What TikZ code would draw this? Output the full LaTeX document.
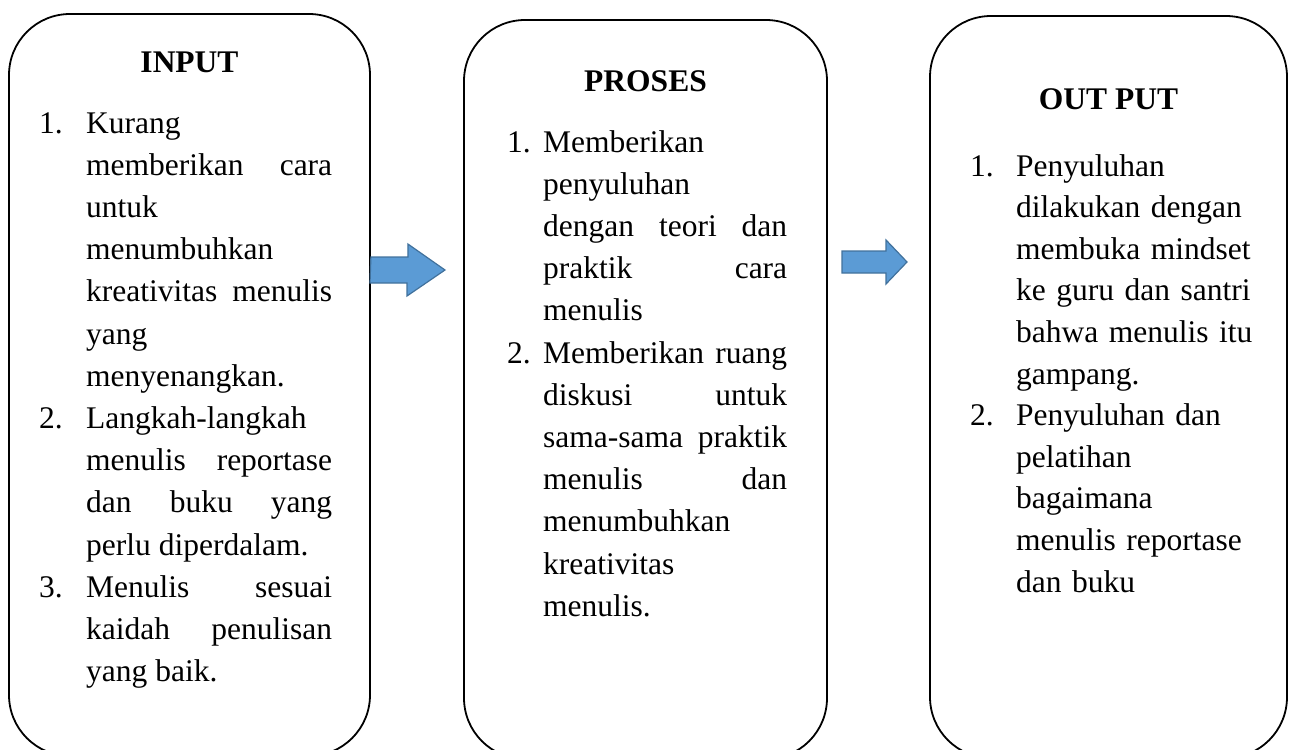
\documentclass[tikz,border=0pt]{standalone}
\usepackage{fontspec}
\setmainfont{Liberation Serif}
\usetikzlibrary{positioning}

\definecolor{arrow_fill}{RGB}{91,155,213}
\definecolor{arrow_line}{RGB}{65,113,156}

\newcommand{\listfont}{\fontsize{31.5}{42.2}\selectfont\tolerance=10000\hbadness=10000\hyphenpenalty=10000\exhyphenpenalty=10000}
\newcommand{\numitem}[2]{\noindent\hangindent=#1\hangafter=1\makebox[#1][l]{#2}\ignorespaces}

\begin{document}
\begin{tikzpicture}
    [
        x=1pt, y=1pt,
        box_node/.style={rectangle, rounded corners=61pt, draw=black, line width=1.8pt, inner sep=0pt},
        head_node/.style={anchor=base, inner sep=0pt, font=\fontsize{31.5}{42.2}\selectfont\bfseries},
        list_node/.style={anchor=base west, inner sep=0pt, text width=#1, align=justify, font=\listfont},
        ragged_list_node/.style={anchor=base west, inner sep=0pt, text width=#1, align=left, font=\listfont\fontsize{31.5}{41.6}\selectfont},
        blue_arrow/.style={fill=arrow_fill, draw=arrow_line, line width=1.2pt, line join=miter},
    ]
        \useasboundingbox (0,0) rectangle (1289,-749) ;
        \clip (0,0) rectangle (1289,-749) ;

        \node[box_node, minimum width=361pt, minimum height=742pt] (input_box) at (189.5,-385) {} ;
        \node[box_node, minimum width=363pt, minimum height=739pt] (proses_box) at (645.5,-389.5) {} ;
        \node[box_node, minimum width=357pt, minimum height=742pt] (output_box) at (1108.5,-387) {} ;

        \node[head_node] (input_head) at (189.5,-73) {INPUT} ;
        \node[head_node] (proses_head) at (645.5,-92) {PROSES} ;
        \node[head_node] (output_head) at (1108.5,-110) {OUT PUT} ;

        \node[list_node=293pt] (input_list) at (39,-133) {%
            \numitem{47pt}{1.}Kurang\newline
            memberikan cara\linebreak
            untuk\newline
            menumbuhkan\newline
            kreativitas menulis\linebreak
            yang\newline
            menyenangkan.\par
            \numitem{47pt}{2.}Langkah-langkah\newline
            menulis reportase\linebreak
            dan buku yang\linebreak
            perlu diperdalam.\par
            \numitem{47pt}{3.}Menulis sesuai\linebreak
            kaidah penulisan\linebreak
            yang baik.\par} ;
        \node[list_node=280pt] (proses_list) at (507,-152) {%
            \numitem{36pt}{1.}Memberikan\newline
            penyuluhan\newline
            dengan teori dan\linebreak
            praktik cara\linebreak
            menulis\par
            \numitem{36pt}{2.}Memberikan ruang\linebreak
            diskusi untuk\linebreak
            sama-sama praktik\linebreak
            menulis dan\linebreak
            menumbuhkan\newline
            kreativitas\newline
            menulis.\par} ;
        \node[ragged_list_node=300pt] (output_list) at (970,-176) {%
            \numitem{46pt}{1.}Penyuluhan\newline
            dilakukan dengan\newline
            membuka mindset\newline
            ke guru dan santri\newline
            bahwa menulis itu\newline
            gampang.\par
            \numitem{46pt}{2.}Penyuluhan dan\newline
            pelatihan\newline
            bagaimana\newline
            menulis reportase\newline
            dan buku\par} ;

        % block arrows between the boxes
        \coordinate (arrow1_tail) at (input_box.east |- 0,-270) ;
        \coordinate (arrow1_tip) at (445,-270) ;
        \coordinate (arrow2_tail) at (842,-262) ;
        \coordinate (arrow2_tip) at (907,-262) ;
        \draw[blue_arrow] (arrow1_tail) ++(0,13) -- ++(37,0) -- ++(0,13) -- (arrow1_tip) -- ++(-38,-26) -- ++(0,13) -- ++(-37,0) -- cycle ;
        \draw[blue_arrow] (arrow2_tail) ++(0,11) -- ++(44,0) -- ++(0,11) -- (arrow2_tip) -- ++(-21,-22) -- ++(0,11) -- ++(-44,0) -- cycle ;
    \end{tikzpicture}
\end{document}
